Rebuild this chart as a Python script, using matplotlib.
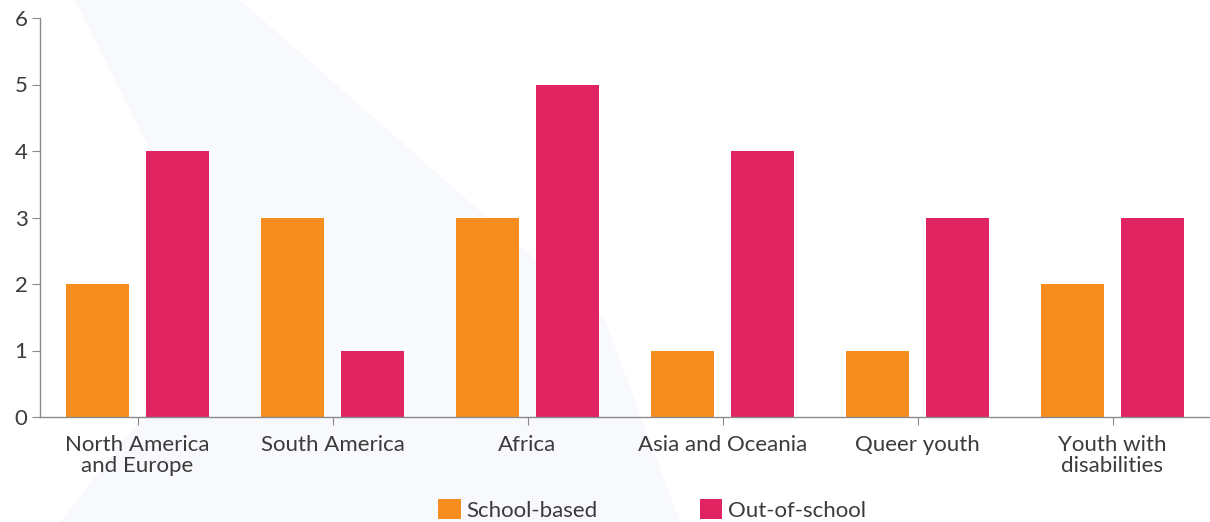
import numpy as np
import matplotlib.pyplot as plt
from matplotlib.patches import Polygon, Patch

categories = ['North America\nand Europe', 'South America', 'Africa',
              'Asia and Oceania', 'Queer youth', 'Youth with\ndisabilities']
school_based = [2, 3, 3, 1, 1, 2]
out_of_school = [4, 1, 5, 4, 3, 3]

ORANGE = '#F68D1E'
CRIMSON = '#E02462'
TEXT = '#3b3b3b'
AXIS = '#8a8a8a'

plt.rcParams['font.family'] = ['Lato', 'DejaVu Sans']

fig = plt.figure(figsize=(12.1, 5.22), dpi=100)
W, H = 1210, 522

# faint decorative band behind the chart
band = [(75, 0), (240, 0), (490, 220), (605, 320), (680, 522),
        (60, 522), (210, 330), (150, 150)]
band = [(x / W, 1 - y / H) for x, y in band]
fig.add_artist(Polygon(band, closed=True, transform=fig.transFigure,
                       facecolor='#F8F9FC', edgecolor='none', zorder=-5))

ax = fig.add_axes([40 / W, 1 - 417 / H, 1 - 40 / W, (417 - 18) / H])
ax.patch.set_alpha(0)

x = np.arange(len(categories))
w = 0.323
ax.bar(x - 0.205, school_based, w, color=ORANGE, zorder=2)
ax.bar(x + 0.205, out_of_school, w, color=CRIMSON, zorder=2)

ax.set_xlim(-0.5, len(categories) - 0.5)
ax.set_ylim(0, 6)
ax.set_yticks(range(7))
ax.set_xticks(x)
ax.set_xticklabels(categories, fontsize=16, color=TEXT, linespacing=1.05)

for side in ['top', 'right']:
    ax.spines[side].set_visible(False)
for side in ['left', 'bottom']:
    ax.spines[side].set_color(AXIS)
    ax.spines[side].set_linewidth(1.0)

ax.tick_params(axis='y', length=6, color=AXIS, labelsize=16, labelcolor=TEXT, pad=3)
ax.tick_params(axis='x', length=6, color=AXIS, pad=7)

handles = [Patch(facecolor=ORANGE, label='School-based'),
           Patch(facecolor=CRIMSON, label='Out-of-school')]
leg = fig.legend(handles=handles, loc='center', bbox_to_anchor=(652 / W, 1 - 510 / H),
                 ncol=2, frameon=False, fontsize=16, handlelength=1.0, handleheight=1.0,
                 handletextpad=0.25, columnspacing=4.6)
for t in leg.get_texts():
    t.set_color(TEXT)

fig.savefig('out.png', dpi=100)
